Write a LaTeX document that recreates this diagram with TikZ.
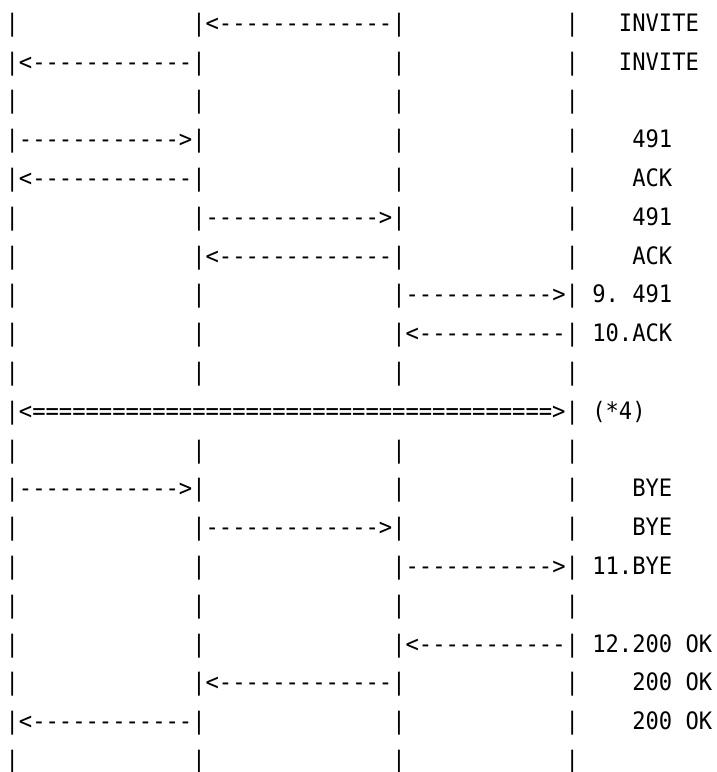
\documentclass[tikz,border=0pt]{standalone}
\usepackage{fontspec}
\newfontfamily\ascfont[FakeStretch=0.9228,Ligatures=TeXOff]{DejaVu Sans Mono}
\tikzset{asc/.style={anchor=base west, inner sep=0pt, outer sep=0pt, text=black,
  font=\ascfont\fontsize{24pt}{28pt}\selectfont}}
% place text chunk starting at column #1 of row #2
\newcommand\ch[3]{\node[asc] (r#2c#1) at ({5.6pt+13.333pt*#1},{772pt-31.29pt-38.8pt*(#2-1)}) {#3};}
\newcommand\allbars[1]{\ch{0}{#1}{|}\ch{14}{#1}{|}\ch{29}{#1}{|}\ch{42}{#1}{|}}
\begin{document}
\begin{tikzpicture}
\useasboundingbox (0pt,0pt) rectangle (717pt,772pt);
\fill[white] (0pt,0pt) rectangle (717pt,772pt);
% row 1
\ch{0}{1}{|}\ch{14}{1}{|<-------------|}\ch{42}{1}{|}\ch{46}{1}{INVITE}
% row 2
\ch{0}{2}{|<------------|}\ch{29}{2}{|}\ch{42}{2}{|}\ch{46}{2}{INVITE}
% row 3
\allbars{3}
% row 4
\ch{0}{4}{|------------>|}\ch{29}{4}{|}\ch{42}{4}{|}\ch{47}{4}{491}
% row 5
\ch{0}{5}{|<------------|}\ch{29}{5}{|}\ch{42}{5}{|}\ch{47}{5}{ACK}
% row 6
\ch{0}{6}{|}\ch{14}{6}{|------------->|}\ch{42}{6}{|}\ch{47}{6}{491}
% row 7
\ch{0}{7}{|}\ch{14}{7}{|<-------------|}\ch{42}{7}{|}\ch{47}{7}{ACK}
% row 8
\ch{0}{8}{|}\ch{14}{8}{|}\ch{29}{8}{|----------->|}\ch{44}{8}{9.}\ch{47}{8}{491}
% row 9
\ch{0}{9}{|}\ch{14}{9}{|}\ch{29}{9}{|<-----------|}\ch{44}{9}{10.ACK}
% row 10
\allbars{10}
% row 11
\ch{0}{11}{|<=======================================>|}\ch{44}{11}{(*4)}
% row 12
\allbars{12}
% row 13
\ch{0}{13}{|------------>|}\ch{29}{13}{|}\ch{42}{13}{|}\ch{47}{13}{BYE}
% row 14
\ch{0}{14}{|}\ch{14}{14}{|------------->|}\ch{42}{14}{|}\ch{47}{14}{BYE}
% row 15
\ch{0}{15}{|}\ch{14}{15}{|}\ch{29}{15}{|----------->|}\ch{44}{15}{11.BYE}
% row 16
\allbars{16}
% row 17
\ch{0}{17}{|}\ch{14}{17}{|}\ch{29}{17}{|<-----------|}\ch{44}{17}{12.200}\ch{51}{17}{OK}
% row 18
\ch{0}{18}{|}\ch{14}{18}{|<-------------|}\ch{42}{18}{|}\ch{47}{18}{200}\ch{51}{18}{OK}
% row 19
\ch{0}{19}{|<------------|}\ch{29}{19}{|}\ch{42}{19}{|}\ch{47}{19}{200}\ch{51}{19}{OK}
% row 20
\allbars{20}
\end{tikzpicture}
\end{document}
